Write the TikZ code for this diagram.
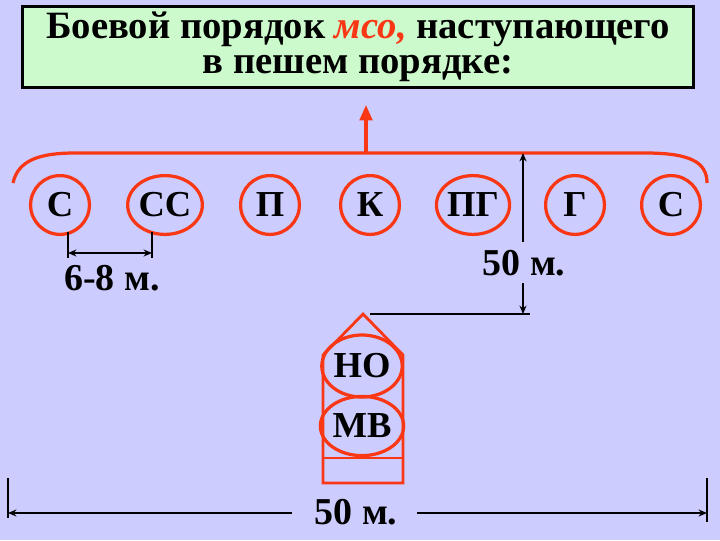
\documentclass[tikz,border=0pt]{standalone}
\usepackage{fontspec}
\setmainfont{Liberation Serif}
\usetikzlibrary{shapes.geometric,arrows.meta}

\definecolor{slide}{RGB}{204,204,255}
\definecolor{panel}{RGB}{204,250,204}
\definecolor{signred}{RGB}{250,55,20}

\newcommand*{\rowy}{205}
\newcommand*{\fronty}{153}

\begin{document}
\begin{tikzpicture}
[
	x=0.025cm, y=-0.025cm,
	unit/.style={ellipse,draw=signred,line width=2.3pt,minimum width=1.47cm,minimum height=1.47cm,inner sep=0pt,font=\bfseries\fontsize{26}{26}\selectfont},
	front/.style={draw=signred,line width=2.3pt},
	dim/.style={draw=black,line width=0.9pt},
	dimtip/.style={-{Stealth[length=6pt,width=5pt]}},
	lbl/.style={font=\bfseries\fontsize{27}{27}\selectfont,inner sep=0pt}
]

	% background
	\fill[slide] (0,0) rectangle (720,540);

	% title
	\node[draw,line width=2.2pt,fill=panel,minimum width=16.75cm,minimum height=2.02cm,inner sep=0pt,align=center,font=\bfseries\fontsize{27.5}{25}\selectfont] (title) at (358,47) {Боевой порядок \textcolor{signred}{\textit{мсо,}} наступающего\\в пешем порядке:};

	% front line and direction
	\coordinate (fl) at (13,183);
	\coordinate (fr) at (707,183);
	\coordinate (fc) at (366,\fronty);
	\coordinate (dir) at (366,105);
	\draw[front] (fl) .. controls (18,160) and (40,\fronty) .. (75,\fronty) -- (645,\fronty) .. controls (690,\fronty) and (707,162) .. (fr);
	\draw[front,-{Triangle[length=11pt,width=9pt]}] (fc) -- (dir);

	% squads
	\node[unit] (s1) at (60,\rowy) {С};
	\node[unit] (ss) at (165,\rowy) {СС};
	\node[unit] (p) at (270,\rowy) {П};
	\node[unit] (k) at (370,\rowy) {К};
	\node[unit] (pg) at (473,\rowy) {ПГ};
	\node[unit] (g) at (575,\rowy) {Г};
	\node[unit] (s2) at (671,\rowy) {С};

	% interval
	\coordinate (i1) at (68,232);
	\coordinate (i2) at (152,232);
	\draw[dim] (i1) -- ++(0,26);
	\draw[dim] (i2) -- ++(0,26);
	\draw[dim,{Stealth[length=6pt,width=5pt]}-{Stealth[length=6pt,width=5pt]}] (68,253) -- (152,253);
	\node[lbl] (d1) at (112,278) {6-8 м.};

	% depth
	\node[lbl] (d2) at (524,263) {50 м.};
	\coordinate (v1) at (523,242);
	\coordinate (v2) at (523,\fronty);
	\coordinate (v3) at (523,283);
	\coordinate (v4) at (523,314);
	\coordinate (hq) at (370,314);
	\draw[dim,dimtip] (v1) -- (v2);
	\draw[dim,dimtip] (v3) -- (v4);
	\draw[dim] (hq) -- (530,314);

	% vehicle
	\draw[front,line width=2pt] (323,483) -- (323,355) -- (363,314) -- (403,355) -- (403,483) -- cycle;
	\draw[front,line width=2pt] (323,458) -- (403,458);
	\node[unit,minimum width=1.48cm,minimum height=1.55cm] (no) at (362,366) {НО};
	\node[unit,minimum width=1.48cm,minimum height=1.48cm] (mv) at (362,426) {МВ};

	% width
	\node[lbl] (d3) at (356,512) {50 м.};
	\coordinate (wl) at (8,513);
	\coordinate (wr) at (707,513);
	\draw[dim] (8,478) -- (8,518);
	\draw[dim] (707,478) -- (707,522);
	\draw[dim,line width=1.4pt,dimtip] (292,513) -- (wl);
	\draw[dim,line width=1.4pt,dimtip] (417,513) -- (wr);

\end{tikzpicture}
\end{document}
